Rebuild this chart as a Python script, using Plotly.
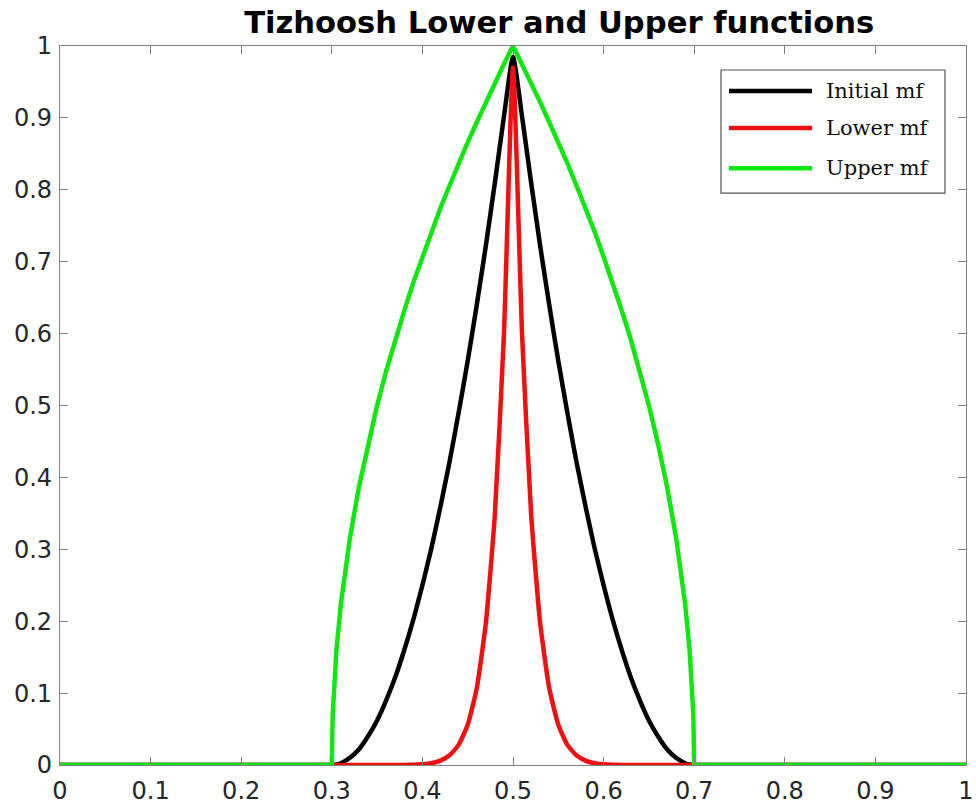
import plotly.graph_objects as go

# x positions (shared by all three series)
x = [0.0, 0.1, 0.2, 0.3, 0.301, 0.302, 0.305, 0.31, 0.32, 0.33, 0.34, 0.35, 0.36, 0.37, 0.38, 0.39,
     0.40, 0.41, 0.42, 0.43, 0.44, 0.45, 0.46, 0.47, 0.48, 0.49, 0.50,
     0.51, 0.52, 0.53, 0.54, 0.55, 0.56, 0.57, 0.58, 0.59, 0.60,
     0.61, 0.62, 0.63, 0.64, 0.65, 0.66, 0.67, 0.68, 0.69, 0.695, 0.698, 0.699, 0.70, 0.8, 0.9, 1.0]

initial_mf = [0, 0, 0, 0, 0.0, 0.0001, 0.0006, 0.0025, 0.01, 0.022, 0.04, 0.062, 0.09, 0.122, 0.16, 0.202,
              0.25, 0.302, 0.36, 0.422, 0.49, 0.562, 0.64, 0.722, 0.81, 0.902, 0.985,
              0.902, 0.81, 0.722, 0.64, 0.562, 0.49, 0.422, 0.36, 0.302, 0.25,
              0.202, 0.16, 0.122, 0.09, 0.062, 0.04, 0.022, 0.01, 0.0025, 0.0006, 0.0001, 0.0, 0, 0, 0, 0]

lower_mf = [0, 0, 0, 0, 0, 0, 0, 0, 0, 0, 0, 0, 0, 0, 0.0001, 0.0003,
            0.001, 0.0025, 0.006, 0.0135, 0.028, 0.056, 0.107, 0.197, 0.349, 0.599, 0.97,
            0.599, 0.349, 0.197, 0.107, 0.056, 0.028, 0.0135, 0.006, 0.0025, 0.001,
            0.0003, 0.0001, 0, 0, 0, 0, 0, 0, 0, 0, 0, 0, 0, 0, 0, 0]

upper_mf = [0, 0, 0, 0, 0.07, 0.10, 0.158, 0.224, 0.316, 0.387, 0.447, 0.5, 0.548, 0.592, 0.632, 0.671,
            0.707, 0.742, 0.775, 0.806, 0.837, 0.866, 0.894, 0.922, 0.949, 0.975, 1.0,
            0.975, 0.949, 0.922, 0.894, 0.866, 0.837, 0.806, 0.775, 0.742, 0.707,
            0.671, 0.632, 0.592, 0.548, 0.5, 0.447, 0.387, 0.316, 0.224, 0.158, 0.10, 0.07, 0, 0, 0, 0]

series_names = ["Initial mf", "Lower mf", "Upper mf"]
series_colors = ["#000000", "#ee1111", "#11e611"]
series_values = [initial_mf, lower_mf, upper_mf]
series_shapes = ["spline", "spline", "linear"]

xticks = [0, 0.1, 0.2, 0.3, 0.4, 0.5, 0.6, 0.7, 0.8, 0.9, 1]
xtick_labels = ["0", "0.1", "0.2", "0.3", "0.4", "0.5", "0.6", "0.7", "0.8", "0.9", "1"]
yticks = [0, 0.1, 0.2, 0.3, 0.4, 0.5, 0.6, 0.7, 0.8, 0.9, 1]
ytick_labels = ["0", "0.1", "0.2", "0.3", "0.4", "0.5", "0.6", "0.7", "0.8", "0.9", "1"]

fig = go.Figure()
for name, color, vals, shp in zip(series_names, series_colors, series_values, series_shapes):
    line = dict(color=color, width=4.5, shape=shp)
    if shp == "spline":
        line["smoothing"] = 0.5
    fig.add_trace(go.Scatter(x=x, y=vals, mode="lines", name=name, line=line, showlegend=False))

axis_common = dict(showgrid=False, zeroline=False, showline=True, linecolor="#808080", linewidth=1.2,
                   mirror="allticks", ticks="inside", ticklen=8, tickcolor="#808080", tickwidth=1.2,
                   automargin=False,
                   tickfont=dict(family="DejaVu Sans", size=24, color="#262626"))

fig.update_xaxes(range=[0, 1], tickvals=xticks, ticktext=xtick_labels, ticklabelstandoff=4, **axis_common)
fig.update_yaxes(range=[0, 1], tickvals=yticks, ticktext=ytick_labels, ticklabelstandoff=2, **axis_common)

# Legend drawn as a boxed key (paper coordinates)
legend_box = dict(x0=0.7296, x1=0.9768, y0=0.7955, y1=0.9666)
legend_rows_y = [0.9374, 0.886, 0.830]
fig.add_shape(type="rect", xref="paper", yref="paper", line=dict(color="#555555", width=1.2),
              fillcolor="white", **legend_box)
for name, color, yy in zip(series_names, series_colors, legend_rows_y):
    fig.add_shape(type="line", xref="paper", yref="paper", x0=0.7384, x1=0.830, y0=yy, y1=yy,
                  line=dict(color=color, width=4.5))
    fig.add_annotation(xref="paper", yref="paper", x=0.8433, y=yy, text=name, showarrow=False,
                       xanchor="left", yanchor="middle",
                       font=dict(family="DejaVu Serif", size=21, color="#111111"))

fig.update_layout(
    width=976, height=811,
    margin=dict(l=60, r=10, t=46, b=46),
    paper_bgcolor="white", plot_bgcolor="white",
    title=dict(text="<b>Tizhoosh Lower and Upper functions</b>", xref="paper", x=0.551, xanchor="center",
               y=1 - 22 / 811, yanchor="middle",
               font=dict(family="DejaVu Sans", size=30.6, color="#000000")),
)

fig.write_html("out.html")
